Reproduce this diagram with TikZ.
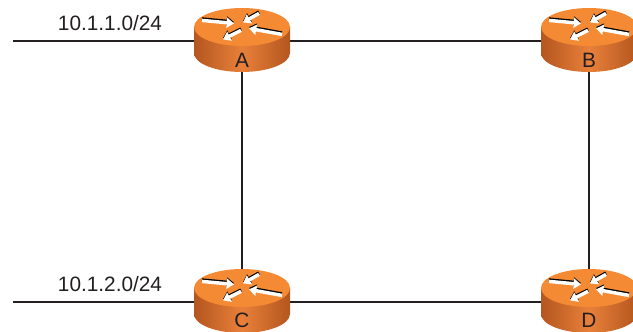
\documentclass[tikz,border=0pt]{standalone}
\usepackage{fontspec}
\setmainfont{Liberation Sans}
\usetikzlibrary{arrows.meta}
\definecolor{rtop}{HTML}{F58A35}
\definecolor{rdark}{HTML}{B4561F}
\definecolor{rmid}{HTML}{E8803A}
\definecolor{txt}{HTML}{231F20}
\tikzset{
  x=0.75pt,y=-0.75pt,
  link/.style={line width=1.6pt,draw=txt},
  netlabel/.style={font=\fontsize{15.6}{18}\selectfont,text=txt,inner sep=0pt},
  rlabel/.style={font=\fontsize{15.6}{18}\selectfont,text=txt,inner sep=0pt},
  flowback/.style={line width=2.5pt,draw=black,-{Triangle[length=5.5pt,width=7pt]}},
  flow/.style={line width=2.6pt,draw=white,-{Triangle[length=5.5pt,width=7.5pt]}},
  router/.pic={
    \shade[left color=rdark,right color=rdark,middle color=rmid]
      (-48,-14) -- (-48,12) arc[start angle=180,end angle=360,x radius=36pt,y radius=14.25pt]
      -- (48,-14) -- cycle;
    \fill[rtop] (0,-14) ellipse[x radius=36pt,y radius=14.25pt];
    \foreach \ax/\ay/\bx/\by in {-40/-21/-8/-18, 17/-28/1/-19, 40/-7/7/-13, -1/-11/-19/-2}{
      \draw[flowback] (\ax,\ay-1) -- (\bx,\by-1);
      \draw[flow] (\ax,\ay+0.4) -- (\bx,\by+0.4);
    }
  }
}
\begin{document}
\begin{tikzpicture}
\useasboundingbox (0,0) rectangle (633,332);
\coordinate (A) at (242,41);
\coordinate (B) at (589,41);
\coordinate (C) at (242,302);
\coordinate (D) at (589,302);
\coordinate (netA) at (13,41);
\coordinate (netC) at (13,302);
\draw[link] (netA) -- (A);
\draw[link] (netC) -- (C);
\draw[link] (A) -- (B);
\draw[link] (C) -- (D);
\draw[link] (A) -- (C);
\draw[link] (B) -- (D);
\pic at (A) {router};
\pic at (B) {router};
\pic at (C) {router};
\pic at (D) {router};
\node[rlabel] (la) at (242,60) {A};
\node[rlabel] (lb) at (589,60) {B};
\node[rlabel] (lc) at (242,320) {C};
\node[rlabel] (ld) at (589,320) {D};
\node[netlabel] (n1) at (110,23) {10.1.1.0/24};
\node[netlabel] (n2) at (110,284) {10.1.2.0/24};
\end{tikzpicture}
\end{document}
